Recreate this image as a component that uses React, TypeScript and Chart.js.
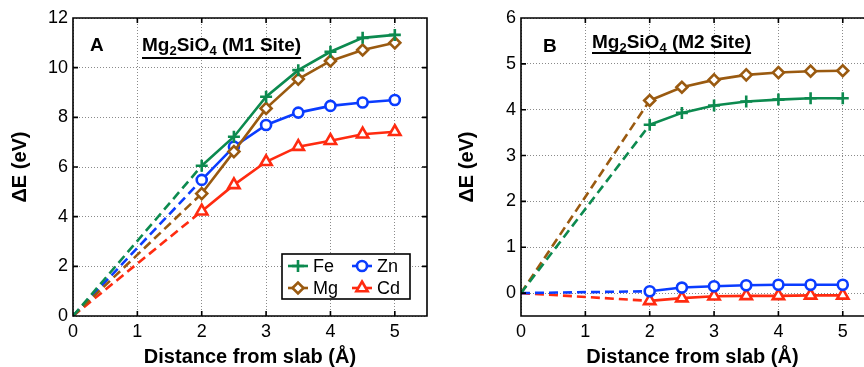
import React, { useEffect, useRef } from 'react';
import { Chart, registerables } from 'chart.js';
import { drawPoint } from 'chart.js/helpers';

Chart.register(...registerables);

// ---------- data ----------
const distances = [2, 2.5, 3, 3.5, 4, 4.5, 5];
const origin = [0, 0];
const m1Fe = [6.05, 7.22, 8.83, 9.9, 10.64, 11.2, 11.32];
const m1Mg = [4.93, 6.62, 8.36, 9.54, 10.27, 10.71, 11.0];
const m1Zn = [5.48, 6.82, 7.69, 8.19, 8.46, 8.6, 8.7];
const m1Cd = [4.22, 5.28, 6.21, 6.82, 7.06, 7.32, 7.42];
const m2Fe = [3.67, 3.93, 4.09, 4.18, 4.22, 4.25, 4.25];
const m2Mg = [4.2, 4.49, 4.65, 4.76, 4.81, 4.84, 4.85];
const m2Zn = [0.04, 0.12, 0.15, 0.17, 0.18, 0.18, 0.18];
const m2Cd = [-0.17, -0.11, -0.07, -0.06, -0.06, -0.05, -0.05];
const xTicks = [0, 1, 2, 3, 4, 5];
const yTicksA = [0, 2, 4, 6, 8, 10, 12];
const yTicksB = [0, 1, 2, 3, 4, 5, 6];
const seriesNames = ['Fe', 'Mg', 'Zn', 'Cd'];
const xTitle = 'Distance from slab (Å)';
const yTitle = 'ΔE (eV)';

// ---------- styles ----------
const FONT = '"Liberation Sans", Arial, sans-serif';
const styles: Record<string, any> = {
  Fe: { color: '#0C8A4F', pointStyle: 'cross', radius: 6 },
  Mg: { color: '#9A5A10', pointStyle: 'rectRot', radius: 5.5 },
  Zn: { color: '#0A3CFF', pointStyle: 'circle', radius: 5 },
  Cd: { color: '#FF2B10', pointStyle: 'triangle', radius: 6.5 },
};

function buildDatasets(values: Record<string, number[]>) {
  const solid: any[] = [];
  const dashed: any[] = [];
  seriesNames.forEach((name) => {
    const s = styles[name];
    const vals = values[name];
    solid.push({
      label: name,
      data: distances.map((x, i) => ({ x, y: vals[i] })),
      borderColor: s.color,
      backgroundColor: '#ffffff',
      borderWidth: 2.6,
      pointStyle: s.pointStyle,
      pointRadius: s.radius,
      pointBorderWidth: 2.6,
      pointBackgroundColor: '#ffffff',
      pointBorderColor: s.color,
      showLine: true,
      tension: 0,
    });
    dashed.push({
      label: name + ' (extrapolated)',
      data: [
        { x: origin[0], y: origin[1] },
        { x: distances[0], y: vals[0] },
      ],
      borderColor: s.color,
      borderWidth: 2.6,
      borderDash: [9, 5],
      pointRadius: 0,
      showLine: true,
      tension: 0,
    });
  });
  return [...solid, ...dashed];
}

const framePlugin = {
  id: 'frame',
  afterDraw(chart: any, _args: any, opts: any) {
    const { ctx, chartArea } = chart;
    const { left, right, top, bottom } = chartArea;
    const xs = chart.scales.x;
    const ys = chart.scales.y;
    ctx.save();
    ctx.strokeStyle = '#000';
    ctx.lineWidth = 1.6;
    ctx.beginPath();
    if (opts.rightBorder) {
      ctx.rect(left, top, right - left, bottom - top);
    } else {
      ctx.moveTo(right + 2, top);
      ctx.lineTo(left, top);
      ctx.lineTo(left, bottom);
      ctx.lineTo(right + 2, bottom);
    }
    const tl = 5;
    xs.ticks.forEach((t: any) => {
      const px = xs.getPixelForValue(t.value);
      ctx.moveTo(px, bottom);
      ctx.lineTo(px, bottom - tl);
      ctx.moveTo(px, top);
      ctx.lineTo(px, top + tl);
    });
    ys.ticks.forEach((t: any) => {
      const py = ys.getPixelForValue(t.value);
      ctx.moveTo(left, py);
      ctx.lineTo(left + tl, py);
      if (opts.rightBorder) {
        ctx.moveTo(right, py);
        ctx.lineTo(right - tl, py);
      }
    });
    ctx.stroke();

    // panel letter
    ctx.fillStyle = '#000';
    ctx.textBaseline = 'alphabetic';
    ctx.textAlign = 'left';
    ctx.font = `bold 19px ${FONT}`;
    ctx.fillText(opts.letter.text, opts.letter.x, opts.letter.y);

    // title with subscripts
    const segs: [string, boolean][] = opts.title.segments;
    let x = opts.title.x;
    const y = opts.title.y;
    segs.forEach(([txt, sub]) => {
      ctx.font = sub ? `bold 13px ${FONT}` : `bold 19px ${FONT}`;
      ctx.fillText(txt, x, sub ? y + 4 : y);
      x += ctx.measureText(txt).width;
    });
    ctx.lineWidth = 2;
    ctx.beginPath();
    ctx.moveTo(opts.title.x, opts.title.uy);
    ctx.lineTo(x, opts.title.uy);
    ctx.stroke();

    // legend
    if (opts.legend) {
      const L = opts.legend;
      ctx.fillStyle = '#fff';
      ctx.fillRect(L.x, L.y, L.w, L.h);
      ctx.lineWidth = 1.6;
      ctx.strokeStyle = '#000';
      ctx.strokeRect(L.x, L.y, L.w, L.h);
      const cols = [L.x + 6, L.x + 70];
      const rows = [L.y + 12, L.y + 34];
      const order = ['Fe', 'Zn', 'Mg', 'Cd'];
      order.forEach((name, i) => {
        const s = styles[name];
        const cx = cols[i % 2];
        const cy = rows[Math.floor(i / 2)];
        ctx.strokeStyle = s.color;
        ctx.lineWidth = 2.6;
        ctx.setLineDash([]);
        ctx.beginPath();
        ctx.moveTo(cx, cy);
        ctx.lineTo(cx + 20, cy);
        ctx.stroke();
        ctx.fillStyle = '#fff';
        drawPoint(ctx, { pointStyle: s.pointStyle, radius: s.radius, borderWidth: 2.6, rotation: 0 } as any, cx + 10, cy);
        ctx.fillStyle = '#000';
        ctx.font = `18px ${FONT}`;
        ctx.textBaseline = 'middle';
        ctx.textAlign = 'left';
        ctx.fillText(name, cx + 25, cy + 1);
      });
    }
    ctx.restore();
  },
};

function makeConfig(
  values: Record<string, number[]>,
  xMax: number,
  yMin: number,
  yMax: number,
  yTicks: number[],
  yWidth: number,
  titlePadLeft: number,
  padRight: number,
  frameOpts: any
): any {
  return {
    type: 'line',
    data: { datasets: buildDatasets(values) },
    plugins: [framePlugin],
    options: {
      animation: false,
      responsive: false,
      devicePixelRatio: 1,
      layout: { autoPadding: false, padding: { left: 0, top: 18, right: padRight, bottom: 0 } },
      plugins: {
        legend: { display: false },
        tooltip: { enabled: false },
        frame: frameOpts,
      },
      scales: {
        x: {
          type: 'linear',
          min: 0,
          max: xMax,
          afterBuildTicks: (axis: any) => {
            axis.ticks = xTicks.map((v) => ({ value: v }));
          },
          afterFit: (scale: any) => {
            scale.height = 51;
            scale.paddingLeft = 0;
            scale.paddingRight = 0;
          },
          grid: { color: '#8a8a8a', lineWidth: 1, drawTicks: false },
          border: { display: false, dash: [1, 2] },
          ticks: {
            padding: 5,
            color: '#000',
            font: { family: FONT, size: 18 },
            maxRotation: 0,
            callback: (v: any) => String(v),
          },
          title: {
            display: true,
            text: xTitle,
            color: '#000',
            font: { family: FONT, size: 20, weight: 'bold', lineHeight: 1 },
            padding: { top: 0, bottom: 0 },
          },
        },
        y: {
          type: 'linear',
          min: yMin,
          max: yMax,
          afterBuildTicks: (axis: any) => {
            axis.ticks = yTicks.map((v) => ({ value: v }));
          },
          afterFit: (scale: any) => {
            scale.width = yWidth;
            scale.paddingTop = 0;
            scale.paddingBottom = 0;
          },
          grid: { color: '#8a8a8a', lineWidth: 1, drawTicks: false },
          border: { display: false, dash: [1, 2] },
          ticks: {
            padding: 5,
            color: '#000',
            font: { family: FONT, size: 18 },
            callback: (v: any) => String(v),
          },
          title: {
            display: true,
            text: yTitle,
            color: '#000',
            font: { family: FONT, size: 20, weight: 'bold', lineHeight: 1 },
            padding: { top: titlePadLeft, bottom: 0 },
          },
        },
      },
    },
  };
}

export default function App() {
  const refA = useRef<HTMLCanvasElement>(null);
  const refB = useRef<HTMLCanvasElement>(null);

  useEffect(() => {
    const sub = (site: string): [string, boolean][] => [
      ['Mg', false],
      ['2', true],
      ['SiO', false],
      ['4', true],
      [` (${site} Site)`, false],
    ];
    const chartA = new Chart(
      refA.current as HTMLCanvasElement,
      makeConfig({ Fe: m1Fe, Mg: m1Mg, Zn: m1Zn, Cd: m1Cd }, 5.5, 0, 12, yTicksA, 73, 10, 5, {
        rightBorder: true,
        letter: { text: 'A', x: 90, y: 51 },
        title: { segments: sub('M1'), x: 142, y: 51, uy: 58 },
        legend: { x: 282, y: 254, w: 128, h: 45 },
      })
    );
    const chartB = new Chart(
      refB.current as HTMLCanvasElement,
      makeConfig({ Fe: m2Fe, Mg: m2Mg, Zn: m2Zn, Cd: m2Cd }, 5.33, -0.5, 6, yTicksB, 89, 25, 0, {
        rightBorder: false,
        letter: { text: 'B', x: 111, y: 52 },
        title: { segments: sub('M2'), x: 160, y: 48, uy: 53 },
        legend: null,
      })
    );
    return () => {
      chartA.destroy();
      chartB.destroy();
    };
  }, []);

  return (
    <div
      style={{
        position: 'absolute',
        left: 0,
        top: 0,
        width: 864,
        height: 367,
        display: 'flex',
        background: '#fff',
      }}
    >
      <canvas ref={refA} width={432} height={367} style={{ display: 'block', width: 432, height: 367 }} />
      <canvas ref={refB} width={432} height={367} style={{ display: 'block', width: 432, height: 367 }} />
    </div>
  );
}
